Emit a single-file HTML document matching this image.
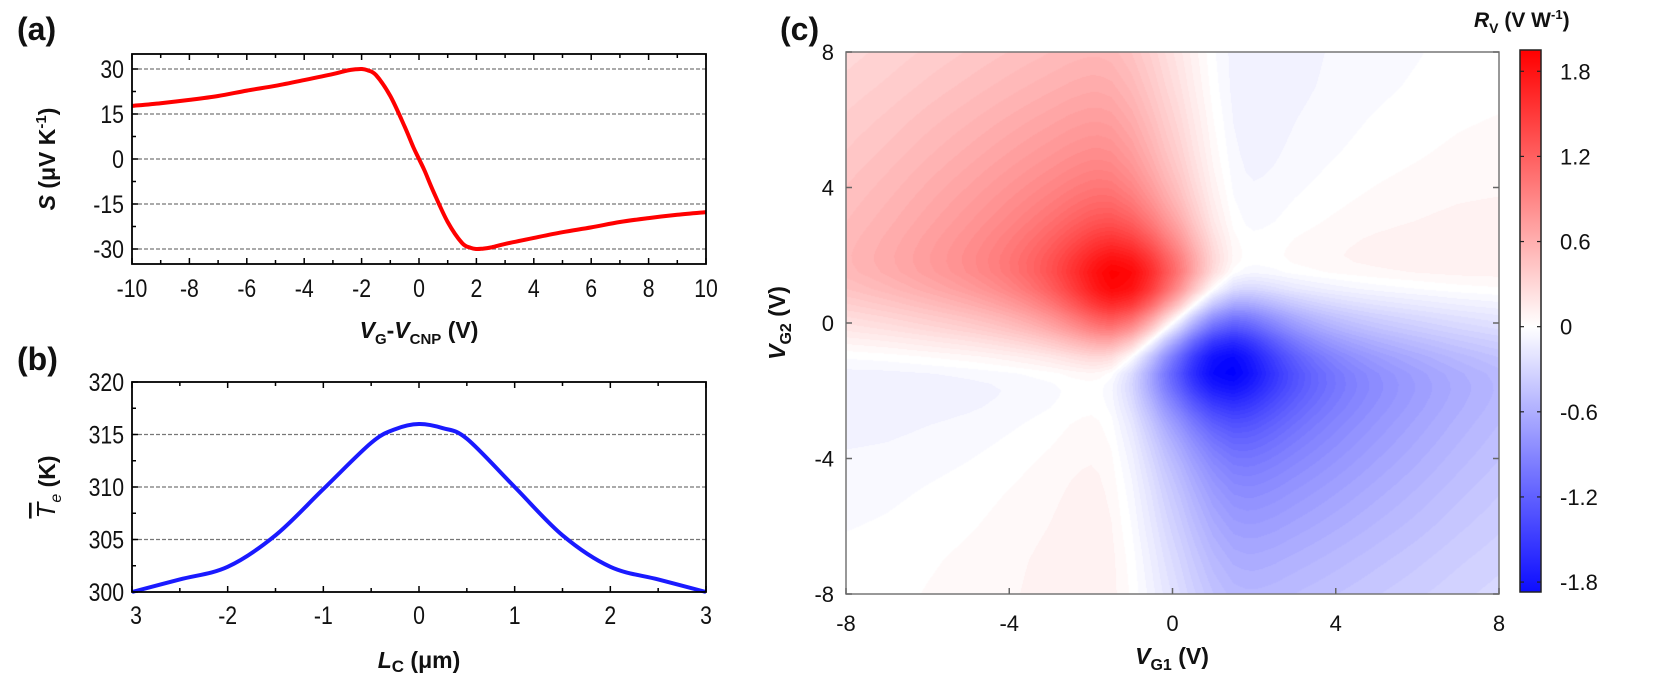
<!DOCTYPE html>
<html><head><meta charset="utf-8"><style>
html,body{margin:0;padding:0;background:#fff;width:1654px;height:688px;overflow:hidden}
#wrap{position:relative;width:1654px;height:688px}
svg{position:absolute;left:0;top:0}
#hm{position:absolute;left:846px;top:52px}
text{font-family:"Liberation Sans",Arial,sans-serif;fill:#111}
.t{font-size:25px}
.th{font-size:22px}
.b{font-weight:bold;font-size:23px}
</style></head><body>
<div id="wrap">
<canvas id="hm" width="653" height="542"></canvas>
<svg id="fig" width="1654" height="688"></svg>
</div>
<script>
// ---------- data ----------
const sV = [-10,-9,-8,-7,-6,-5,-4,-3,-2.5,-2.2,-2,-1.8,-1.5,-1,-0.5,-0.2,0,0.2,0.5,1,1.5,1.8,2,2.2,2.5,3,4,5,6,7,8,9,10];
const sS = [17.7,18.6,19.7,21,22.8,24.4,26.3,28.3,29.5,29.9,30,29.6,28,21,10.8,4,0,-4,-10.8,-21,-28,-29.6,-30,-29.9,-29.5,-28.3,-26.3,-24.4,-22.8,-21,-19.7,-18.6,-17.7];
const sXTicks = [-10,-8,-6,-4,-2,0,2,4,6,8,10];
const sYTicks = [30,15,0,-15,-30];
const tL = [-3,-2.5,-2,-1.5,-1,-0.5,-0.25,0,0.25,0.5,1,1.5,2,2.5,3];
const tT = [300,301.2,302.4,305.4,309.8,314.2,315.5,316,315.6,314.6,310,305.4,302.4,301.2,300];
const tXTicks = [-3,-2,-1,0,1,2,3];
const tXLabels = ["3","-2","-1","0","1","2","3"];
const tYTicks = [300,305,310,315,320];
const hTicks = [-8,-4,0,4,8];
const cbTicks = [1.8,1.2,0.6,0,-0.6,-1.2,-1.8];
const cbLabels = ["1.8","1.2","0.6","0","-0.6","-1.2","-1.8"];

const NS="http://www.w3.org/2000/svg";
const svg=document.getElementById('fig');
function el(tag,attrs,parent,txt){const e=document.createElementNS(NS,tag);for(const k in attrs)e.setAttribute(k,attrs[k]);if(txt!==undefined)e.textContent=txt;(parent||svg).appendChild(e);return e;}
function ntext(x,y,anchor,cls,str,parent,sx){return el('text',{x:0,y:0,transform:'translate('+x+','+y+') scale('+(sx||0.85)+',1)','text-anchor':anchor,class:cls},parent,str);}
function lin(d0,d1,r0,r1){return v=>r0+(v-d0)*(r1-r0)/(d1-d0);}
function smoothPath(pts){let d='M'+pts[0][0]+','+pts[0][1];for(let i=0;i<pts.length-1;i++){const p0=pts[Math.max(0,i-1)],p1=pts[i],p2=pts[i+1],p3=pts[Math.min(pts.length-1,i+2)];const c1=[p1[0]+(p2[0]-p0[0])/6,p1[1]+(p2[1]-p0[1])/6],c2=[p2[0]-(p3[0]-p1[0])/6,p2[1]-(p3[1]-p1[1])/6];d+=' C'+c1+' '+c2+' '+p2;}return d;}
function interp(xs,ys,v){if(v<=xs[0])return ys[0];for(let i=0;i<xs.length-1;i++){if(v<=xs[i+1]){const f=(v-xs[i])/(xs[i+1]-xs[i]);return ys[i]+f*(ys[i+1]-ys[i]);}}return ys[ys.length-1];}

// ---------- panel a ----------
const gA=el('g',{});


const ax=lin(-10,10,132,706), ay=lin(-35,35,264,54);
sYTicks.forEach(v=>{const g=el('line',{x1:132,x2:706,y1:ay(v),y2:ay(v),stroke:'#777','stroke-width':1.2,'stroke-dasharray':'4,2'},gA);});
for(let v=-10;v<=10;v++){const L=v%2===0?6:4;el('line',{x1:ax(v),x2:ax(v),y1:264,y2:264-L,stroke:'#000','stroke-width':1.5},gA);el('line',{x1:ax(v),x2:ax(v),y1:54,y2:54+L,stroke:'#000','stroke-width':1.5},gA);}
for(let v=-30;v<=30;v+=7.5){const L=(v%15===0)?6:4;el('line',{x1:132,x2:132+L,y1:ay(v),y2:ay(v),stroke:'#000','stroke-width':1.5},gA);}
const pa=el('path',{d:smoothPath(sV.map((v,i)=>[ax(v),ay(sS[i])])),fill:'none',stroke:'#f00','stroke-width':4},gA);

el('rect',{x:132,y:54,width:574,height:210,fill:'none',stroke:'#000','stroke-width':1.8},gA);
sXTicks.forEach(v=>{const t=ntext(ax(v),297,'middle','t',String(v),gA);});
sYTicks.forEach(v=>{const t=ntext(124,ay(v)+9,'end','t',String(v),gA);});
let t1=el('text',{x:17,y:40,style:'font-weight:bold;font-size:32px'},gA,'(a)');
let yt=el('text',{transform:'translate(55,159) rotate(-90)','text-anchor':'middle',class:'b'},gA);

yt.innerHTML='<tspan font-style="italic">S</tspan> (μV K<tspan font-size="15" dy="-9">-1</tspan><tspan dy="9">)</tspan>';
let xt=el('text',{x:419,y:338,'text-anchor':'middle',class:'b'},gA);

xt.innerHTML='<tspan font-style="italic">V</tspan><tspan font-size="15" dy="6">G</tspan><tspan dy="-6">-</tspan><tspan font-style="italic">V</tspan><tspan font-size="15" dy="6">CNP</tspan><tspan dy="-6"> (V)</tspan>';

// ---------- panel b ----------
const gB=el('g',{});

const bx=lin(-3,3,132,706), by=lin(300,320,592,382);
[305,310,315].forEach(v=>{const g=el('line',{x1:132,x2:706,y1:by(v),y2:by(v),stroke:'#777','stroke-width':1.2,'stroke-dasharray':'4,2'},gB);});
for(let v=-3;v<=3.001;v+=0.5){const L=Math.abs(v%1)<0.01?6:4;el('line',{x1:bx(v),x2:bx(v),y1:592,y2:592-L,stroke:'#000','stroke-width':1.5},gB);el('line',{x1:bx(v),x2:bx(v),y1:382,y2:382+L,stroke:'#000','stroke-width':1.5},gB);}
for(let v=300;v<=320;v+=2.5){const L=(v%5===0)?6:4;el('line',{x1:132,x2:132+L,y1:by(v),y2:by(v),stroke:'#000','stroke-width':1.5},gB);}
const pb=el('path',{d:smoothPath(tL.map((v,i)=>[bx(v),by(tT[i])])),fill:'none',stroke:'#1a1aff','stroke-width':4},gB);

el('rect',{x:132,y:382,width:574,height:210,fill:'none',stroke:'#000','stroke-width':1.8},gB);
tXTicks.forEach((v,i)=>{const t=ntext(bx(v)+(i===0?4:0),624,'middle','t',tXLabels[i],gB);});
tYTicks.forEach(v=>{const t=ntext(124,by(v)+9,'end','t',String(v),gB);});
let t2=el('text',{x:17,y:370,style:'font-weight:bold;font-size:32px'},gB,'(b)');
let yt2=el('text',{transform:'translate(55,487) rotate(-90)','text-anchor':'middle',class:'b'},gB);

yt2.innerHTML='<tspan font-style="italic" font-weight="normal" font-size="26" text-decoration="overline">T</tspan><tspan font-style="italic" font-weight="normal" font-size="16" dy="6">e</tspan><tspan dy="-6">  (K)</tspan>';
let xt2=el('text',{x:419,y:668,'text-anchor':'middle',class:'b'},gB);

xt2.innerHTML='<tspan font-style="italic">L</tspan><tspan font-size="17" dy="4">C</tspan><tspan dy="-4"> (μm)</tspan>';

// ---------- panel c heatmap ----------
const HX0=846,HX1=1499,HY0=52,HY1=594;
const hx=lin(-8,8,HX0,HX1), hy=lin(-8,8,HY1,HY0);
function rv(g1,g2){const r2=g1*g1+g2*g2;const w=(0.45+0.55*Math.exp(-r2/6))/(1+r2/60);return 0.0525*(interp(sV,sS,g1)-interp(sV,sS,g2))*w;}
function cmap(v){let f=Math.max(-1,Math.min(1,v/1.95));f=Math.round(f*40)/40;
 if(f>=0){const c=Math.round(255*(1-f));return [255,c,c];}else{const c=Math.round(255*(1+f));return [c,c,255];}}
const cv=document.getElementById('hm'),ctx=cv.getContext('2d');
const W=cv.width,H=cv.height,img=ctx.createImageData(W,H);
for(let j=0;j<H;j++){const g2=8-16*j/(H-1);for(let i=0;i<W;i++){const g1=-8+16*i/(W-1);const c=cmap(rv(g1,g2));const k=(j*W+i)*4;img.data[k]=c[0];img.data[k+1]=c[1];img.data[k+2]=c[2];img.data[k+3]=255;}}
ctx.putImageData(img,0,0);
const gC=el('g',{});

el('rect',{x:HX0,y:HY0,width:HX1-HX0,height:HY1-HY0,fill:'none',stroke:'#777','stroke-width':1.5},gC);
hTicks.forEach(v=>{
 el('line',{x1:hx(v),x2:hx(v),y1:HY1,y2:HY1-6,stroke:'#666','stroke-width':1.5},gC);
 el('line',{x1:HX0,x2:HX0+6,y1:hy(v),y2:hy(v),stroke:'#666','stroke-width':1.5},gC);
 el('line',{x1:HX1,x2:HX1-6,y1:hy(v),y2:hy(v),stroke:'#666','stroke-width':1.5},gC);
 const a=el('text',{x:hx(v),y:631,'text-anchor':'middle',class:'th'},gC,String(v));
 const b=el('text',{x:834,y:hy(v)+8,'text-anchor':'end',class:'th'},gC,String(v));
});
let t3=el('text',{x:780,y:40,style:'font-weight:bold;font-size:32px'},gC,'(c)');
let yt3=el('text',{transform:'translate(785,323) rotate(-90)','text-anchor':'middle',class:'b'},gC);

yt3.innerHTML='<tspan font-style="italic">V</tspan><tspan font-size="16" dy="6">G2</tspan><tspan dy="-6"> (V)</tspan>';
let xt3=el('text',{x:1172,y:664,'text-anchor':'middle',class:'b'},gC);

xt3.innerHTML='<tspan font-style="italic">V</tspan><tspan font-size="16" dy="6">G1</tspan><tspan dy="-6"> (V)</tspan>';

// colorbar
const CB0=50,CB1=592,cby=lin(-1.87,1.95,CB1,CB0);
const defs=el('defs',{});
const grad=el('linearGradient',{id:'cbg',x1:0,y1:1,x2:0,y2:0},defs);
[-1.87,-1,0,1,1.95].forEach(v=>{const c=cmap(v);el('stop',{offset:(v+1.87)/3.82,'stop-color':'rgb('+c.join(',')+')'},grad);});
const cb=el('rect',{x:1520,y:CB0,width:21,height:CB1-CB0,fill:'url(#cbg)',stroke:'#222','stroke-width':1.5},gC);

cbTicks.forEach((v,i)=>{
 el('line',{x1:1520,x2:1524,y1:cby(v),y2:cby(v),stroke:'#222','stroke-width':1.2},gC);
 el('line',{x1:1541,x2:1537,y1:cby(v),y2:cby(v),stroke:'#222','stroke-width':1.2},gC);
 const t=el('text',{x:1560,y:cby(v)+8,class:'th'},gC,cbLabels[i]);
});
let ct=el('text',{x:1474,y:27,class:'b',style:'font-size:21px'},gC);

ct.innerHTML='<tspan font-style="italic">R</tspan><tspan font-size="14" dy="6">V</tspan><tspan dy="-6"> (V W</tspan><tspan font-size="13" dy="-8">-1</tspan><tspan dy="8">)</tspan>';
</script>
</body></html>
